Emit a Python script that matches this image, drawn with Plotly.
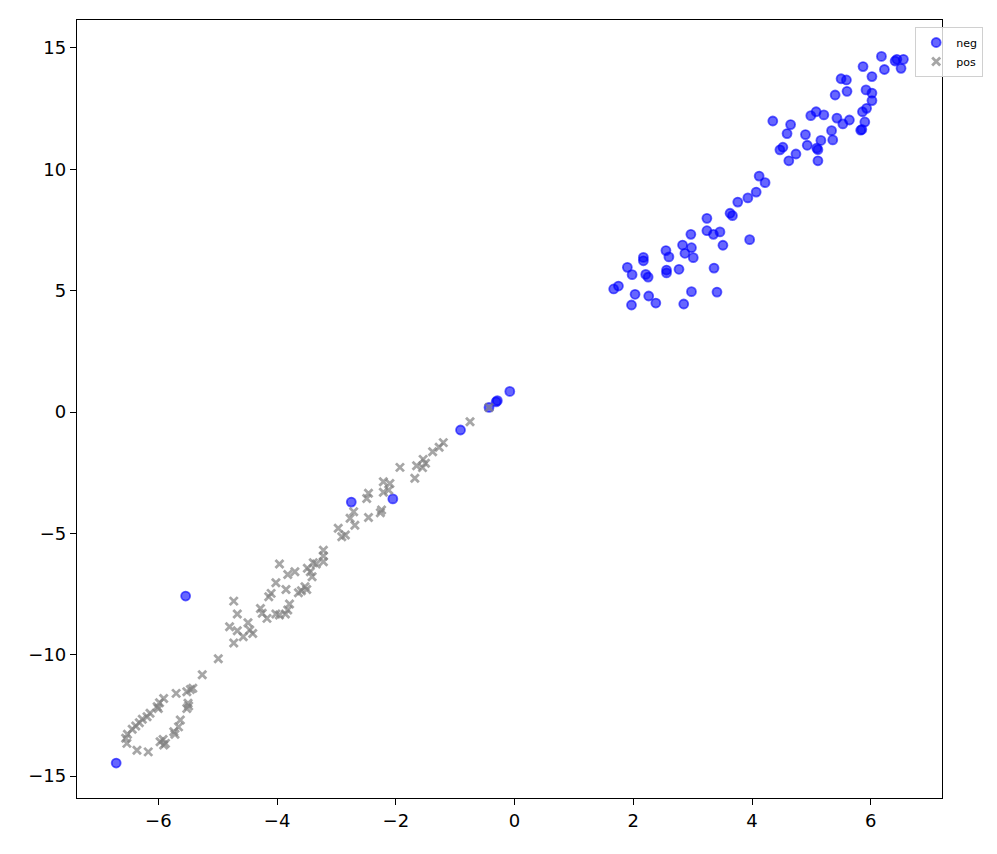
import plotly.graph_objects as go

neg_x = [4.35, 4.65, 4.59, 4.52, 4.47, 4.62, 4.74, 4.90, 4.93, 4.99, 5.08, 5.21, 5.16, 5.11, 5.09,
         5.11, 5.34, 5.36, 5.43, 5.53, 5.64, 5.40, 5.50, 5.59, 5.60, 5.83, 5.85, 5.90, 5.86, 5.93,
         5.92, 6.02, 6.02, 5.87, 6.02, 6.18, 6.23, 6.41, 6.44, 6.55, 6.51, 4.12, 4.22, 4.07, 3.93,
         3.76, 3.63, 3.67, 3.96, 3.24, 2.97, 3.24, 3.35, 3.46, 3.51, 2.83, 2.98, 2.87, 3.01, 2.55,
         2.60, 2.17, 2.17, 1.90, 1.98, 2.21, 2.25, 2.56, 2.56, 2.77, 3.36, 1.75, 1.67, 2.03, 2.26,
         2.38, 1.97, 2.98, 3.41, 2.85, -0.08, -0.29, -0.31, -0.43, -0.91, -2.05, -2.75, -5.54, -6.71]
neg_y = [11.99, 11.84, 11.47, 10.91, 10.80, 10.35, 10.63, 11.43, 10.99, 12.21, 12.37, 12.24, 11.19, 10.81, 10.87,
         10.35, 11.59, 11.21, 12.11, 11.87, 12.03, 13.06, 13.73, 13.68, 13.21, 11.61, 11.64, 11.95, 12.37, 12.51,
         13.27, 13.14, 12.83, 14.23, 13.82, 14.65, 14.11, 14.46, 14.53, 14.53, 14.16, 9.72, 9.45, 9.06, 8.82,
         8.65, 8.19, 8.09, 7.10, 7.98, 7.32, 7.47, 7.32, 7.42, 6.87, 6.88, 6.77, 6.54, 6.36, 6.65,
         6.39, 6.37, 6.23, 5.96, 5.66, 5.67, 5.56, 5.85, 5.73, 5.88, 5.93, 5.19, 5.07, 4.85, 4.78,
         4.49, 4.41, 4.96, 4.94, 4.45, 0.85, 0.47, 0.42, 0.19, -0.74, -3.58, -3.71, -7.58, -14.46]

pos_x = [-0.43, -0.75, -1.20, -1.27, -1.38, -1.54, -1.50, -1.65, -1.55, -1.93, -1.68, -2.21, -2.10, -2.12,
         -2.21, -2.46, -2.49, -2.24, -2.26, -2.46, -2.71, -2.77, -2.69, -2.97, -2.91, -2.85, -3.22, -3.22,
         -3.22, -3.39, -3.34, -3.49, -3.44, -3.41, -3.53, -3.96, -3.82, -3.70, -4.02, -3.85, -3.64, -3.59,
         -3.50, -4.10, -4.14, -3.79, -3.82, -3.86, -4.02, -3.96, -4.28, -4.25, -4.17, -4.73, -4.67, -4.80,
         -4.67, -4.49, -4.46, -4.57, -4.41, -4.73, -4.99, -5.26, -5.46, -5.42, -5.52, -5.70, -5.50, -5.49,
         -5.52, -5.91, -5.98, -6.02, -6.00, -6.14, -6.19, -6.27, -6.32, -6.38, -6.44, -6.52, -6.55, -6.53,
         -6.36, -6.17, -5.63, -5.66, -5.74, -5.72, -5.92, -5.97, -5.88, -5.91]
pos_y = [0.19, -0.40, -1.26, -1.45, -1.64, -1.95, -2.11, -2.21, -2.29, -2.28, -2.73, -2.87, -2.94, -3.21,
         -3.30, -3.35, -3.56, -4.04, -4.15, -4.34, -4.11, -4.38, -4.66, -4.79, -5.14, -5.07, -5.69, -5.93,
         -6.17, -6.21, -6.26, -6.44, -6.58, -6.79, -7.20, -6.26, -6.69, -6.58, -7.03, -7.31, -7.44, -7.36,
         -7.31, -7.47, -7.61, -7.91, -8.16, -8.32, -8.32, -8.36, -8.09, -8.29, -8.50, -7.79, -8.32, -8.85,
         -9.01, -8.68, -8.98, -9.26, -9.12, -9.51, -10.16, -10.82, -11.43, -11.38, -11.52, -11.59, -12.00, -12.11,
         -12.21, -11.80, -11.98, -12.14, -12.21, -12.41, -12.55, -12.66, -12.80, -12.93, -13.07, -13.27, -13.44, -13.65,
         -13.93, -14.00, -12.69, -12.97, -13.17, -13.27, -13.49, -13.58, -13.65, -13.72]

x_ticks = [-6, -4, -2, 0, 2, 4, 6]
y_ticks = [-15, -10, -5, 0, 5, 10, 15]

fig = go.Figure()
fig.add_trace(go.Scatter(
    x=neg_x, y=neg_y, mode="markers", name="neg",
    marker=dict(symbol="circle", size=9, color="rgba(0,0,255,0.6)",
                line=dict(color="rgba(0,0,255,0.6)", width=1.8)),
))
fig.add_trace(go.Scatter(
    x=pos_x, y=pos_y, mode="markers", name="pos",
    marker=dict(symbol="x-thin", size=8, color="rgba(128,128,128,0.7)",
                line=dict(color="rgba(128,128,128,0.7)", width=2.8)),
))

axis_common = dict(showgrid=False, zeroline=False, showline=True, linecolor="black", linewidth=1.3,
                   mirror=True, ticks="outside", ticklen=6, tickwidth=1.3, tickcolor="black",
                   tickfont=dict(family="DejaVu Sans", size=18, color="black"))
fig.update_xaxes(range=[-7.37, 7.2], tickvals=x_ticks, **axis_common)
fig.update_yaxes(range=[-15.9, 16.15], tickvals=y_ticks, **axis_common)

# page body adds an 8px offset; compensate so the plot frame lands at 77..942 x 20..798
fig.update_layout(
    width=989, height=846,
    margin=dict(l=69, r=55, t=12, b=56),
    plot_bgcolor="white", paper_bgcolor="white",
    font=dict(family="DejaVu Sans", color="black"),
    legend=dict(x=0.969, y=0.991, xanchor="left", yanchor="top",
                bgcolor="rgba(255,255,255,0.8)", bordercolor="#d0d0d0", borderwidth=1,
                font=dict(size=11), itemsizing="trace", tracegroupgap=0,
                itemwidth=30),
)

fig.write_html("out.html")
